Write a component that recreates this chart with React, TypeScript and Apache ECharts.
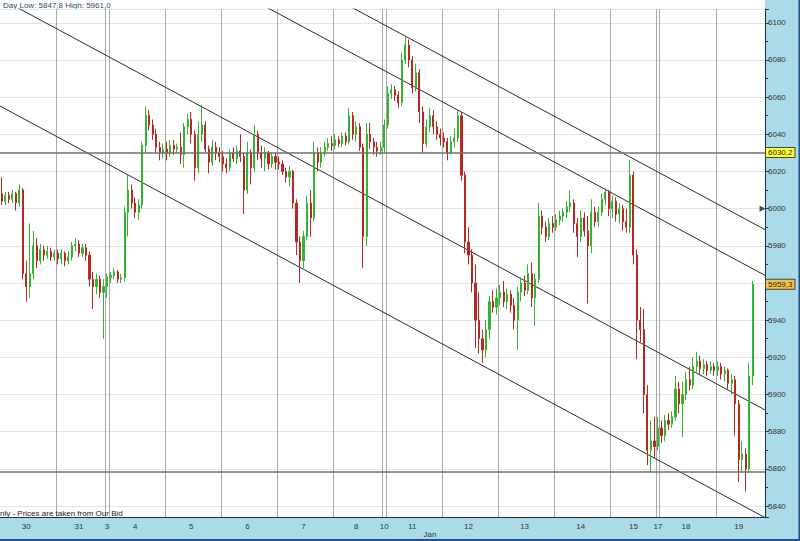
import { useEffect, useRef } from 'react';
import * as echarts from 'echarts';

// ---- data ----
const dayLabels = ['30', '31', '3', '4', '5', '6', '7', '8', '10', '11', '12', '13', '14', '15', '17', '18', '19'];

// candles: [open, close, low, high]
const dec30 = [
  [6008, 6004, 6002, 6017], [6004, 6007, 6002, 6009], [6007, 6005, 6003, 6009], [6005, 6008, 6003, 6010],
  [6008, 6003, 5999, 6009], [6003, 6010, 6001, 6013], [6010, 5965, 5962, 6011], [5965, 5958, 5950, 5972],
  [5958, 5965, 5952, 5992], [5965, 5980, 5962, 5988], [5980, 5972, 5968, 5984], [5972, 5978, 5970, 5981],
  [5978, 5975, 5972, 5980], [5975, 5977, 5973, 5980], [5977, 5974, 5972, 5979], [5974, 5976, 5972, 5978],
];
const dec31 = [
  [5976, 5973, 5970, 5978], [5973, 5976, 5970, 5978], [5976, 5972, 5969, 5977], [5972, 5974, 5970, 5977],
  [5974, 5980, 5972, 5982], [5980, 5981, 5977, 5984], [5981, 5976, 5974, 5983], [5976, 5979, 5974, 5981],
  [5979, 5975, 5972, 5981], [5975, 5962, 5958, 5977], [5962, 5958, 5946, 5966], [5958, 5962, 5954, 5965],
  [5962, 5955, 5952, 5964], [5955, 5958, 5930, 5962],
];
const jan03 = [[5958, 5963, 5952, 5965]];
const jan04 = [
  [5963, 5964, 5960, 5966], [5964, 5966, 5962, 5968], [5966, 5962, 5960, 5967], [5962, 5963, 5960, 5965],
  [5963, 5998, 5961, 6001], [5998, 6010, 5985, 6018], [6010, 6003, 6000, 6013], [6003, 5998, 5995, 6006],
  [5998, 6002, 5994, 6005], [6002, 6034, 6000, 6036], [6034, 6050, 6030, 6055], [6050, 6045, 6042, 6053],
  [6045, 6040, 6037, 6048], [6040, 6033, 6030, 6043], [6033, 6030, 6026, 6036], [6030, 6032, 6027, 6035],
];
const jan05 = [
  [6032, 6030, 6026, 6036], [6030, 6034, 6028, 6037], [6034, 6032, 6029, 6037], [6032, 6033, 6030, 6035],
  [6033, 6029, 6024, 6041], [6029, 6044, 6022, 6046], [6044, 6048, 6040, 6051], [6048, 6040, 6035, 6052],
  [6040, 6022, 6015, 6042], [6022, 6040, 6019, 6047], [6040, 6045, 6036, 6056], [6045, 6032, 6030, 6047],
  [6032, 6025, 6019, 6034], [6025, 6033, 6023, 6037], [6033, 6030, 6026, 6036], [6030, 6028, 6025, 6033],
];
const jan06 = [
  [6028, 6024, 6020, 6031], [6024, 6022, 6019, 6027], [6022, 6030, 6020, 6032], [6030, 6027, 6025, 6033],
  [6027, 6031, 6024, 6034], [6031, 6028, 6025, 6040], [6028, 6010, 5997, 6030], [6010, 6030, 6008, 6036],
  [6030, 6022, 6013, 6032], [6022, 6040, 6020, 6045], [6040, 6030, 6026, 6042], [6030, 6027, 6022, 6034],
  [6027, 6030, 6020, 6033], [6030, 6024, 6021, 6031], [6024, 6028, 6022, 6030], [6028, 6025, 6021, 6030],
];
const jan07 = [
  [6025, 6024, 6021, 6028], [6024, 6020, 6018, 6026], [6020, 6017, 6014, 6022], [6017, 6020, 6012, 6023],
  [6020, 6003, 6000, 6021], [6003, 5982, 5975, 6005], [5982, 5972, 5960, 5985], [5972, 5985, 5968, 5988],
  [5985, 6003, 5983, 6007], [6003, 5995, 5985, 6010], [5995, 6030, 5993, 6036], [6030, 6025, 6020, 6033],
  [6025, 6030, 6022, 6033], [6030, 6033, 6028, 6036], [6033, 6035, 6031, 6038], [6035, 6034, 6031, 6039],
];
const jan08 = [
  [6034, 6037, 6032, 6040], [6037, 6035, 6033, 6039], [6035, 6039, 6033, 6041], [6039, 6036, 6034, 6041],
  [6036, 6050, 6035, 6054], [6050, 6040, 6037, 6052], [6040, 6044, 6036, 6047], [6044, 6033, 6031, 6046],
  [6033, 5985, 5968, 6035], [5985, 6040, 5980, 6046], [6040, 6036, 6032, 6046], [6036, 6033, 6029, 6038],
  [6033, 6031, 6028, 6036], [6031, 6033, 6029, 6036],
];
const jan10 = [[6033, 6045, 6030, 6048]];
const jan11 = [
  [6045, 6062, 6043, 6066], [6062, 6064, 6059, 6067], [6064, 6061, 6058, 6066], [6061, 6057, 6054, 6063],
  [6057, 6080, 6055, 6084], [6080, 6088, 6078, 6093], [6088, 6080, 6076, 6091], [6080, 6065, 6062, 6082],
  [6065, 6073, 6063, 6078], [6073, 6052, 6046, 6075], [6052, 6035, 6030, 6055], [6035, 6044, 6033, 6048],
  [6044, 6050, 6041, 6054], [6050, 6044, 6040, 6053], [6044, 6040, 6037, 6047], [6040, 6038, 6034, 6043],
];
const jan12 = [
  [6038, 6036, 6033, 6041], [6036, 6030, 6026, 6038], [6030, 6036, 6029, 6039], [6036, 6038, 6033, 6043],
  [6038, 6050, 6036, 6053], [6050, 6018, 6015, 6052], [6018, 5982, 5976, 6020], [5982, 5975, 5970, 5990],
  [5975, 5960, 5955, 5978], [5960, 5940, 5925, 5970], [5940, 5930, 5922, 5955], [5930, 5924, 5917, 5935],
  [5924, 5935, 5920, 5940], [5935, 5950, 5930, 5953], [5950, 5947, 5944, 5956], [5947, 5952, 5943, 5957],
];
const jan13 = [
  [5952, 5955, 5948, 5959], [5955, 5950, 5947, 5961], [5950, 5954, 5946, 5957], [5954, 5948, 5944, 5956],
  [5948, 5940, 5935, 5952], [5940, 5955, 5924, 5958], [5955, 5960, 5950, 5963], [5960, 5956, 5953, 5964],
  [5956, 5965, 5954, 5970], [5965, 5952, 5947, 5971], [5952, 5962, 5937, 5965], [5962, 5996, 5960, 6003],
  [5996, 5990, 5986, 5999], [5990, 5985, 5982, 5993], [5985, 5992, 5983, 5995], [5992, 5990, 5987, 5996],
];
const jan14 = [
  [5990, 5994, 5988, 5997], [5994, 5996, 5991, 5999], [5996, 5998, 5993, 6000], [5998, 6001, 5995, 6004],
  [6001, 6003, 5998, 6010], [6003, 5992, 5987, 6005], [5992, 5985, 5974, 5995], [5985, 5995, 5982, 5999],
  [5995, 5988, 5985, 5998], [5988, 5980, 5949, 5996], [5980, 5998, 5976, 6005], [5998, 5993, 5990, 6001],
  [5993, 5998, 5990, 6001], [5998, 6005, 5996, 6008], [6005, 6009, 6002, 6011], [6009, 6000, 5996, 6010],
];
const jan15 = [
  [6000, 6004, 5995, 6007], [6004, 5997, 5993, 6006], [5997, 6000, 5992, 6003], [6000, 5993, 5988, 6002],
  [5993, 5990, 5987, 6000], [5990, 6018, 5987, 6026], [6018, 5975, 5970, 6020], [5975, 5940, 5919, 5978],
  [5940, 5935, 5928, 5947], [5935, 5900, 5890, 5946], [5900, 5870, 5862, 5905], [5870, 5875, 5858, 5886],
  [5875, 5872, 5866, 5888],
];
const jan17 = [[5872, 5882, 5870, 5888]];
const jan18 = [
  [5882, 5878, 5874, 5886], [5878, 5886, 5875, 5889], [5886, 5884, 5881, 5890], [5884, 5888, 5882, 5891],
  [5888, 5903, 5886, 5910], [5903, 5895, 5890, 5907], [5895, 5900, 5877, 5907], [5900, 5908, 5897, 5912],
  [5908, 5905, 5902, 5915], [5905, 5915, 5903, 5920], [5915, 5918, 5912, 5923], [5918, 5914, 5911, 5921],
  [5914, 5916, 5911, 5919], [5916, 5913, 5910, 5918], [5913, 5915, 5911, 5918], [5915, 5913, 5910, 5917],
];
const jan19 = [
  [5913, 5915, 5910, 5918], [5915, 5911, 5908, 5917], [5911, 5913, 5907, 5915], [5913, 5906, 5903, 5914],
  [5906, 5908, 5900, 5911], [5908, 5895, 5878, 5910], [5895, 5865, 5853, 5897], [5865, 5868, 5858, 5875],
  [5868, 5860, 5847.8, 5871], [5860, 5910, 5858, 5917], [5910, 5959.3, 5905, 5961],
];
const trailingEmptySlots = 3;

const sessions = [dec30, dec31, jan03, jan04, jan05, jan06, jan07, jan08, jan10, jan11, jan12, jan13, jan14, jan15, jan17, jan18, jan19];

// channel lines: [value at left edge, value at right edge]
const channelLines = [
  [6055.2, 5833.8],
  [6113.2, 5891.7],
  [6185.5, 5964.1],
  [6210.1, 5988.7],
];
const resistanceLevel = 6030.2;
const supportLevel = 5858.3;
const lastPrice = 5959.3;
const yMin = 5834.1;
const yMax = 6107.4;
// axis tick labels hidden behind the price box in the reference
const coveredTickLabels = [5960];

export default function App() {
  const ref = useRef<HTMLDivElement>(null);
  useEffect(() => {
    document.body.style.margin = '0';
    const chart = echarts.init(ref.current!, null, { renderer: 'svg' });

    const categories: string[] = [];
    const candles: any[] = [];
    const labelText: string[] = [];
    const dayStart = new Set<number>();
    sessions.forEach((s, d) => {
      const start = candles.length;
      const n = s.length + (d === sessions.length - 1 ? trailingEmptySlots : 0);
      if (d > 0) dayStart.add(start);
      const mid = start + Math.floor((n - 1) / 2);
      for (let i = 0; i < n; i++) {
        const idx = start + i;
        categories.push(String(idx));
        candles.push(i < s.length ? s[i] : '-');
        labelText.push(idx === mid ? dayLabels[d] : '');
      }
    });
    const total = categories.length;

    const font = 'Liberation Sans, Arial, sans-serif';
    const green = '#2fb52f';
    const red = '#b82820';

    const lineSeries = channelLines.map((ln, i) => ({
      type: 'line',
      xAxisIndex: 1,
      yAxisIndex: 0,
      data: [[0, ln[0]], [total, ln[1]]],
      symbol: 'none',
      clip: true,
      silent: true,
      lineStyle: { color: '#2b2b2b', width: 1 },
      z: 3,
      ...(i === 3
        ? {
            markPoint: {
              silent: true,
              symbol: 'triangle',
              symbolSize: [6, 6],
              symbolRotate: -90,
              itemStyle: { color: '#3a4a66' },
              label: { show: false },
              data: [{ coord: [total - 0.7, 6000] }],
            },
          }
        : {}),
    }));

    const boxLabel = (text: string, bg: string) => ({
      show: true,
      position: 'end',
      distance: 1,
      formatter: text,
      backgroundColor: bg,
      borderColor: '#444',
      borderWidth: 1,
      padding: [1, 2, 0, 2],
      fontSize: 8,
      color: '#222',
      fontFamily: font,
    });

    const option: any = {
      animation: false,
      backgroundColor: '#a9dbe8',
      grid: {
        left: 0,
        right: 35,
        top: 9,
        bottom: 24,
        show: true,
        backgroundColor: '#ffffff',
        borderWidth: 0,
      },
      xAxis: [
        {
          type: 'category',
          data: categories,
          boundaryGap: true,
          axisLine: { show: true, onZero: false, lineStyle: { color: '#1b2f55', width: 1 } },
          axisTick: { show: false },
          axisLabel: {
            interval: (i: number) => !!labelText[i],
            formatter: (v: string) => labelText[Number(v)] || '',
            fontSize: 8,
            color: '#333',
            fontFamily: font,
            margin: 5,
          },
          splitLine: {
            show: true,
            interval: (i: number) => dayStart.has(i),
            lineStyle: { color: '#a9a9a9', width: 1 },
          },
        },
        {
          type: 'value',
          min: 0,
          max: total,
          show: false,
          axisLine: { onZero: false },
        },
      ],
      yAxis: {
        type: 'value',
        position: 'right',
        min: yMin,
        max: yMax,
        splitNumber: 14,
        minInterval: 20,
        maxInterval: 20,
        axisLine: { show: true, onZero: false, lineStyle: { color: '#1b2f55', width: 1 } },
        axisTick: { show: true, length: 4, lineStyle: { color: '#333' } },
        minorTick: { show: true, splitNumber: 2, length: 3, lineStyle: { color: '#333' } },
        axisLabel: {
          margin: 3,
          fontSize: 8,
          color: '#333',
          fontFamily: font,
          formatter: (v: number) => {
            const r = Math.round(v);
            if (Math.abs(v / 20 - Math.round(v / 20)) > 1e-6) return '';
            if (coveredTickLabels.includes(r)) return '';
            return String(r);
          },
        },
        splitLine: { show: true, lineStyle: { color: '#e5e5e5' } },
      },
      series: [
        {
          type: 'candlestick',
          xAxisIndex: 0,
          yAxisIndex: 0,
          data: candles,
          barWidth: 1.6,
          itemStyle: {
            color: green,
            color0: red,
            borderColor: green,
            borderColor0: red,
            borderWidth: 1,
          },
          z: 4,
          markLine: {
            silent: true,
            symbol: ['none', 'none'],
            animation: false,
            data: [
              {
                yAxis: resistanceLevel,
                lineStyle: { color: '#707070', width: 1.5, type: 'solid' },
                label: boxLabel('6030,2', '#ffff33'),
              },
              {
                yAxis: supportLevel,
                lineStyle: { color: '#707070', width: 1.5, type: 'solid' },
                label: { show: false },
              },
              {
                yAxis: lastPrice,
                lineStyle: { color: 'rgba(0,0,0,0)', width: 1, type: 'solid' },
                label: boxLabel('5959,3', '#f6c444'),
              },
            ],
          },
        },
        ...lineSeries,
      ],
      graphic: [
        { type: 'rect', shape: { x: 0, y: 0, width: 765, height: 9 }, style: { fill: '#ffffff' }, silent: true },
        { type: 'line', shape: { x1: 0, y1: 9.5, x2: 765, y2: 9.5 }, style: { stroke: '#5a5a5a', lineWidth: 1 }, silent: true },
        { type: 'rect', shape: { x: 0, y: 539, width: 800, height: 2 }, style: { fill: '#1f4f8f' }, silent: true },
        { type: 'rect', shape: { x: 798.5, y: 0, width: 1.5, height: 541 }, style: { fill: '#1f4f8f' }, silent: true },
        {
          type: 'text',
          x: 3,
          y: 5,
          style: { text: 'Day Low: 5847,8 High: 5961,0', fontSize: 8, fontFamily: font, fill: '#2d4a6e', verticalAlign: 'middle' },
          silent: true,
        },
        {
          type: 'text',
          x: 0,
          y: 513,
          z: 10,
          style: { text: 'nly - Prices are taken from Our Bid', fontSize: 8, fontFamily: font, fill: '#222', verticalAlign: 'middle' },
          silent: true,
        },
        {
          type: 'text',
          x: 430,
          y: 534,
          style: { text: 'Jan', fontSize: 8, fontFamily: font, fill: '#333', align: 'center', verticalAlign: 'middle' },
          silent: true,
        },
      ],
    };

    chart.setOption(option);
    return () => chart.dispose();
  }, []);

  return <div ref={ref} style={{ width: 800, height: 541, position: 'absolute', left: 0, top: 0 }} />;
}
